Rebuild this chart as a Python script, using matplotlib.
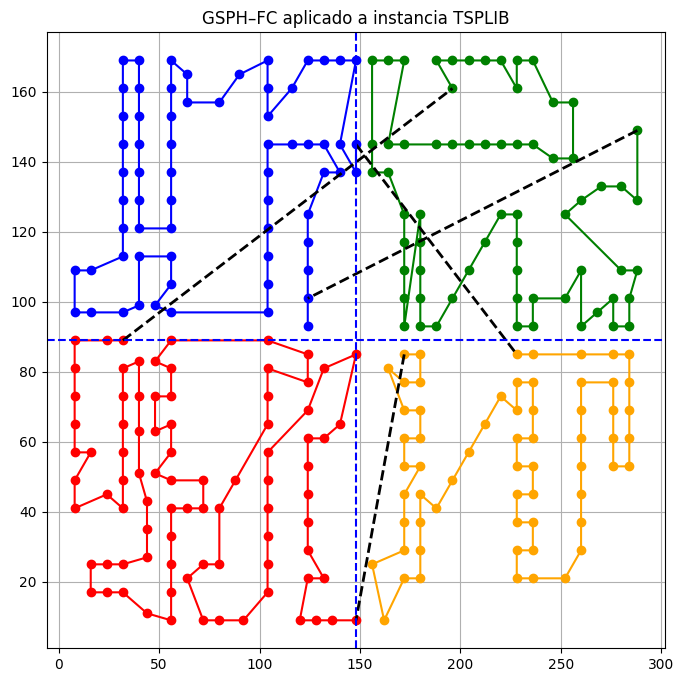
import matplotlib.pyplot as plt

# GSPH-FC tour on a TSPLIB instance, split into 4 quadrants

cut_x = 148
cut_y = 89

# quadrant tours (x, y) in visiting order
blue_x = [124, 124, 124, 124, 124, 132, 140, 132, 124, 116, 104, 104, 104, 104, 104, 104, 104,
          56, 48, 56, 56, 40, 40, 32, 16, 8, 8, 16, 32, 32, 32, 32, 32, 32, 32, 32,
          40, 40, 40, 40, 40, 40, 40, 56, 56, 56, 56, 56, 56, 56, 64, 64, 80, 90,
          104, 104, 104, 116, 124, 132, 140, 148, 140, 148, 148]
blue_y = [93, 101, 109, 117, 125, 137, 137, 145, 145, 145, 145, 137, 129, 121, 113, 105, 97,
          97, 99, 105, 113, 113, 99, 97, 97, 97, 109, 109, 113, 121, 129, 137, 145, 153, 161, 169,
          169, 161, 153, 145, 137, 129, 121, 121, 129, 137, 145, 153, 161, 169, 165, 157, 157, 165,
          169, 161, 153, 161, 169, 169, 169, 169, 145, 137, 145]

green_x = [196, 188, 196, 204, 212, 220, 228, 228, 236, 246, 256, 256, 246, 236, 228, 220, 212,
           204, 196, 188, 172, 164, 172, 164, 156, 156, 156, 164, 172, 172, 172, 172, 172,
           180, 180, 180, 180, 180, 188, 196, 204, 212, 220, 228, 228, 228, 228, 228, 236, 236,
           252, 260, 260, 268, 276, 276, 284, 284, 288, 280, 252, 260, 270, 280, 288, 288]
green_y = [161, 169, 169, 169, 169, 169, 161, 169, 169, 157, 157, 141, 141, 145, 145, 145, 145,
           145, 145, 145, 145, 145, 169, 169, 169, 145, 137, 137, 125, 117, 109, 101, 93,
           125, 117, 109, 101, 93, 93, 101, 109, 117, 125, 125, 117, 109, 101, 93, 93, 101,
           101, 109, 93, 97, 101, 93, 93, 101, 109, 109, 125, 129, 133, 133, 129, 149]

red_x = [32, 24, 8, 8, 8, 8, 8, 16, 8, 8, 24, 32, 32, 32, 32, 32, 32, 40, 40, 40, 40, 44, 44, 44,
         32, 24, 16, 16, 24, 32, 44, 56, 56, 56, 56, 56, 64, 72, 72, 56, 48, 56, 56, 48, 48, 56,
         56, 48, 56, 104, 124, 124, 104, 104, 104, 88, 80, 80, 72, 64, 72, 80, 92, 104, 104, 104,
         104, 104, 104, 124, 132, 148, 140, 132, 124, 124, 124, 124, 124, 132, 124, 120, 128, 136, 148]
red_y = [89, 89, 89, 81, 73, 65, 57, 57, 49, 41, 45, 41, 49, 57, 65, 73, 81, 83, 73, 63, 51, 43, 35, 27,
         25, 25, 25, 17, 17, 17, 11, 9, 17, 25, 33, 41, 41, 41, 49, 49, 51, 57, 65, 63, 73, 73,
         81, 83, 89, 89, 85, 77, 81, 73, 65, 49, 41, 25, 25, 21, 9, 9, 9, 17, 25, 33,
         41, 49, 57, 69, 81, 85, 65, 61, 61, 53, 45, 37, 29, 21, 21, 9, 9, 9, 9]

orange_x = [172, 180, 180, 172, 164, 172, 180, 180, 172, 172, 180, 172, 172, 172, 156, 162, 172, 180,
            180, 180, 180, 188, 196, 204, 212, 220, 228, 228, 236, 236, 236, 228, 228, 236, 236, 228,
            228, 236, 236, 228, 228, 236, 252, 260, 260, 260, 260, 260, 260, 260, 276, 276, 276, 276,
            284, 284, 284, 284, 284, 276, 260, 236, 228]
orange_y = [85, 85, 77, 77, 81, 69, 69, 61, 61, 53, 53, 45, 37, 29, 25, 9, 21, 21,
            29, 37, 45, 41, 49, 57, 65, 73, 69, 77, 77, 69, 61, 61, 53, 53, 45, 45,
            37, 37, 29, 29, 21, 21, 21, 29, 37, 45, 53, 61, 69, 77, 77, 69, 61, 53,
            53, 61, 69, 77, 85, 85, 85, 85, 85]

# links between quadrant tours
link_x = [(32, 196), (288, 124), (148, 228), (172, 148)]
link_y = [(89, 161), (149, 101), (145, 85), (85, 9)]

fig = plt.figure(figsize=(6.85, 6.82), dpi=100)
ax = fig.add_axes([0.0679, 0.0494, 0.9036, 0.903])

ax.plot(blue_x, blue_y, 'o-', color='blue')
ax.plot(green_x, green_y, 'o-', color='green')
ax.plot(red_x, red_y, 'o-', color='red')
ax.plot(orange_x, orange_y, 'o-', color='orange')

for lx, ly in zip(link_x, link_y):
    ax.plot(lx, ly, 'k--', linewidth=2)

ax.axvline(cut_x, color='blue', linestyle='--', linewidth=1.5)
ax.axhline(cut_y, color='blue', linestyle='--', linewidth=1.5)

ax.set_title("GSPH–FC aplicado a instancia TSPLIB")
ax.grid(True)

plt.savefig("out.png", dpi=100)
